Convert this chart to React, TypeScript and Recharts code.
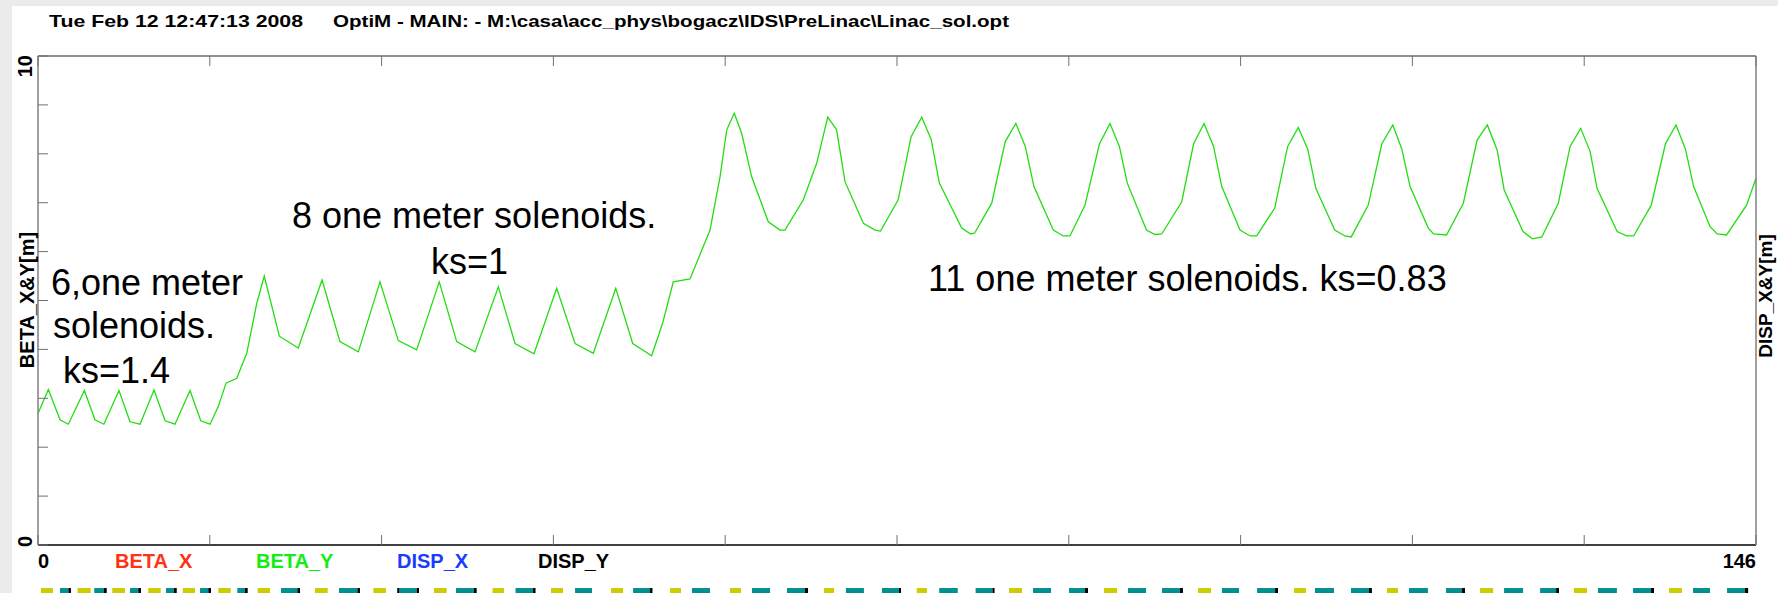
import React from 'react';
import { ComposedChart, Line, XAxis, YAxis, ReferenceArea } from 'recharts';

const W = 1778;
const H = 593;
const FONT = '"Liberation Sans", Arial, Helvetica, sans-serif';

// beam position s [m]
const sPos = [
  0, 0.88, 1.87, 2.58, 3.94, 4.84, 5.6, 6.88, 7.82, 8.67, 9.86, 10.8, 11.64, 12.92, 13.83, 14.62,
  15.32, 15.98, 16.89, 17.74, 18.59, 19.23,
  20.51, 22.12, 24.14, 25.66, 27.22, 29.06, 30.62, 32.18, 34.1, 35.58, 37.14, 39.12, 40.54, 42.15,
  44.08, 45.64, 47.19, 49.1, 50.54, 52.15, 53.1, 53.99, 55.41, 57.11, 57.96, 58.53,
  59.17, 59.8, 60.65, 62.06, 63.06, 63.48, 65.04, 66.18, 67.11, 67.87, 68.58, 70.14, 71.13, 71.6,
  73.1, 74.2, 75.1, 75.9, 76.6, 78.5, 79.26, 79.6,
  81.05, 82.2, 83.1, 83.9, 84.64, 86.28, 87.13, 87.7,
  88.98, 90.2, 91.1, 91.9, 92.57, 94.2, 94.92, 95.5,
  97.2, 98.2, 99.09, 99.9, 100.6, 102.15, 103.0, 103.57,
  105.1, 106.2, 107.1, 107.9, 108.6, 110.2, 111.07, 111.6,
  113.05, 114.2, 115.13, 115.9, 116.6, 118.15, 118.6, 119.7,
  121.13, 122.3, 123.17, 124.0, 124.6, 126.2, 127.0, 127.8,
  129.2, 130.2, 131.1, 131.9, 132.5, 134.2, 135.0, 135.6,
  137.1, 138.3, 139.2, 140.0, 140.7, 142.1, 142.7, 143.5,
  145.2, 146,
];

// BETA_Y [m]
const betaY = [
  2.69, 3.18, 2.56, 2.47, 3.16, 2.56, 2.47, 3.16, 2.52, 2.47, 3.17, 2.54, 2.47, 3.16, 2.54, 2.47,
  2.83, 3.31, 3.41, 3.92, 4.94, 5.5,
  4.27, 4.03, 5.42, 4.16, 3.95, 5.38, 4.18, 3.99, 5.38, 4.16, 3.95, 5.28, 4.12, 3.91,
  5.25, 4.12, 3.92, 5.25, 4.12, 3.87, 4.55, 5.38, 5.44, 6.44, 7.53, 8.49,
  8.83, 8.42, 7.53, 6.61, 6.44, 6.44, 7.06, 7.81, 8.75, 8.49, 7.43, 6.58, 6.44, 6.42,
  7.06, 8.35, 8.75, 8.3, 7.4, 6.48, 6.36, 6.38,
  6.99, 8.25, 8.62, 8.15, 7.33, 6.44, 6.32, 6.32,
  6.95, 8.2, 8.62, 8.15, 7.4, 6.44, 6.35, 6.36,
  7.02, 8.2, 8.62, 8.15, 7.33, 6.44, 6.32, 6.32,
  6.89, 8.15, 8.54, 8.1, 7.29, 6.44, 6.32, 6.3,
  6.95, 8.2, 8.59, 8.1, 7.33, 6.48, 6.36, 6.34,
  6.99, 8.28, 8.59, 8.08, 7.26, 6.41, 6.26, 6.3,
  6.99, 8.15, 8.52, 8.05, 7.29, 6.41, 6.32, 6.32,
  6.95, 8.2, 8.59, 8.1, 7.33, 6.51, 6.36, 6.34,
  6.95, 7.5,
];

const xTicks = [0, 14.6, 29.2, 43.8, 58.4, 73, 87.6, 102.2, 116.8, 131.4, 146];
const yTicksLeft = [0, 1, 2, 3, 4, 5, 6, 7, 8, 9, 10];
const yTicksRight = [0, 0.5, 1, 1.5, 2, 2.5, 3, 3.5, 4, 4.5, 5];

const legendNames = ['BETA_X', 'BETA_Y', 'DISP_X', 'DISP_Y'];
const legendColors = ['#ff3311', '#11ee11', '#1a3cff', '#000000'];

// lattice elements [start, end] in s
const solenoids = [
  [0.25, 1.27], [3.37, 4.48], [6.31, 7.39], [9.37, 10.43], [12.3, 13.34], [15.32, 16.38],
  [18.67, 19.72], [23.54, 24.62], [28.5, 29.57], [33.65, 34.73], [38.63, 39.6], [43.6, 44.62],
  [48.7, 49.72], [53.71, 54.64], [58.81, 59.74], [66.8, 67.65], [74.68, 75.54], [82.52, 83.62],
  [90.59, 91.7], [98.58, 99.69], [106.74, 107.76], [114.64, 115.57], [122.55, 123.66],
  [130.53, 131.64], [138.61, 139.71],
];
const cavities = [
  [1.87, 2.58], [4.78, 5.61], [7.82, 8.52], [10.88, 11.56], [13.77, 14.47], [16.94, 17.59],
  [20.65, 22.04], [25.58, 27.14], [30.68, 32.18], [35.52, 37.05], [40.58, 42.07], [45.64, 47.08],
  [50.57, 52.01], [55.58, 57.11], [60.68, 62.21], [63.65, 65.18], [68.66, 70.19], [71.72, 73.17],
  [76.59, 78.16], [79.68, 81.11], [84.56, 86.09], [87.62, 88.98], [92.63, 94.16], [95.52, 97.05],
  [100.62, 102.07], [103.6, 105.13], [108.52, 110.14], [111.58, 113.11], [116.51, 118.12],
  [119.66, 121.02], [124.59, 126.21], [127.65, 129.01], [132.57, 134.18], [135.55, 137.08],
  [140.65, 142.09], [143.54, 145.07],
];
const markers = [
  [2.58, 2.8], [5.61, 5.84], [8.52, 8.75], [11.56, 11.79], [14.47, 14.7], [17.59, 17.82],
  [22.04, 22.27], [27.14, 27.36], [30.53, 30.68], [32.18, 32.38], [37.05, 37.28], [42.07, 42.28],
  [52.01, 52.22], [65.18, 65.44], [73.17, 73.34], [81.11, 81.29], [88.98, 89.23], [97.05, 97.3],
  [105.13, 105.38], [113.11, 113.36], [121.02, 121.27], [129.01, 129.26], [137.08, 137.33],
  [145.07, 145.33],
];

const data = sPos.map((s, i) => ({ s, betaY: betaY[i] }));

// lattice strip drawn below the axis labels, in left-axis units
const stripTop = -0.88;
const stripBottom = -1.1;

const tickColor = '#707070';

function BottomTick(props: any) {
  const { x, y, payload } = props;
  const v = payload.value;
  return (
    <g>
      <line x1={x} y1={y} x2={x} y2={y - 10} stroke={tickColor} />
      {(v === 0 || v === 146) && (
        <text x={x} y={y + 23} textAnchor={v === 0 ? 'start' : 'end'} fontFamily={FONT}
          fontWeight="bold" fontSize={20} fill="#000">{v}</text>
      )}
    </g>
  );
}

function TopTick(props: any) {
  const { x, y } = props;
  return <line x1={x} y1={y} x2={x} y2={y + 10} stroke={tickColor} />;
}

function LeftTick(props: any) {
  const { x, y, payload } = props;
  const v = payload.value;
  const lx = 32;
  return (
    <g>
      <line x1={x} y1={y} x2={x + 10} y2={y} stroke={tickColor} />
      {v === 0 && (
        <text transform={`rotate(-90 ${lx} ${y + 2})`} x={lx} y={y + 2} textAnchor="start"
          fontFamily={FONT} fontWeight="bold" fontSize={20} fill="#000">0</text>
      )}
      {v === 10 && (
        <text transform={`rotate(-90 ${lx} ${y - 1})`} x={lx} y={y - 1} textAnchor="end"
          fontFamily={FONT} fontWeight="bold" fontSize={20} fill="#000">10</text>
      )}
    </g>
  );
}

function RightTick(props: any) {
  const { x, y, payload } = props;
  const v = payload.value;
  const lx = x + 20;
  return (
    <g>
      <line x1={x} y1={y} x2={x - 10} y2={y} stroke={tickColor} />
      {v === 0 && (
        <text transform={`rotate(-90 ${lx} ${y + 2})`} x={lx} y={y + 2} textAnchor="start"
          fontFamily={FONT} fontWeight="bold" fontSize={20} fill="#000">0</text>
      )}
      {v === 5 && (
        <text transform={`rotate(-90 ${lx} ${y - 1})`} x={lx} y={y - 1} textAnchor="end"
          fontFamily={FONT} fontWeight="bold" fontSize={20} fill="#000">5</text>
      )}
    </g>
  );
}

export default function App() {
  const bold = { fontFamily: FONT, fontWeight: 'bold' as const };
  const strip = (list: number[][], fill: string, key: string) =>
    list.map(([a, b], i) => (
      <ReferenceArea key={key + i} yAxisId="left" x1={a} x2={b} y1={stripBottom} y2={stripTop}
        ifOverflow="visible" fill={fill} fillOpacity={1} stroke="none" />
    ));
  return (
    <div style={{ position: 'relative', width: W, height: H, background: '#ebebeb', overflow: 'hidden' }}>
      <style>{'body{margin:0}'}</style>
      <div style={{ position: 'absolute', left: 12, top: 6, width: W - 12, height: H - 6, background: '#fff' }} />
      <div style={{ position: 'absolute', left: 0, top: 0 }}>
        <ComposedChart width={W} height={H} data={data} margin={{ top: 46, right: 12, bottom: 28, left: 28 }}>
          <XAxis dataKey="s" type="number" domain={[0, 146]} ticks={xTicks} interval={0} height={20}
            tickSize={0} tickMargin={0} tickLine={false} axisLine={{ stroke: '#000', strokeWidth: 1.5 }}
            tick={BottomTick} />
          <XAxis xAxisId="top" orientation="top" dataKey="s" type="number" domain={[0, 146]} ticks={xTicks}
            interval={0} height={10} tickSize={0} tickMargin={0} tickLine={false}
            axisLine={{ stroke: '#222', strokeWidth: 1.2 }} tick={TopTick} />
          <YAxis yAxisId="left" type="number" domain={[0, 10]} ticks={yTicksLeft} interval={0} width={10}
            tickSize={0} tickMargin={0} tickLine={false} axisLine={{ stroke: '#808080', strokeWidth: 1.5 }}
            tick={LeftTick} allowDataOverflow />
          <YAxis yAxisId="right" orientation="right" type="number" domain={[0, 5]} ticks={yTicksRight}
            interval={0} width={10} tickSize={0} tickMargin={0} tickLine={false}
            axisLine={{ stroke: '#808080', strokeWidth: 1.5 }} tick={RightTick} />
          {strip(solenoids, '#cccc00', 'sol')}
          {strip(cavities, '#009090', 'cav')}
          {strip(markers, '#000000', 'mk')}
          <Line yAxisId="left" dataKey="betaY" type="linear" stroke="#22dd11" strokeWidth={1.3}
            dot={false} isAnimationActive={false} />
        </ComposedChart>
      </div>
      <svg width={W} height={H} style={{ position: 'absolute', left: 0, top: 0, pointerEvents: 'none' }}>
        <text x={49} y={27} fontSize={16.5} textLength={254} lengthAdjust="spacingAndGlyphs" {...bold}>
          Tue Feb 12 12:47:13 2008
        </text>
        <text x={333} y={27} fontSize={16.5} textLength={676} lengthAdjust="spacingAndGlyphs" {...bold}>
          {'OptiM - MAIN: - M:\\casa\\acc_phys\\bogacz\\IDS\\PreLinac\\Linac_sol.opt'}
        </text>
        <text transform="rotate(-90 34 300)" x={34} y={300} textAnchor="middle" fontSize={20} {...bold}>
          BETA_X&amp;Y[m]
        </text>
        <text transform="rotate(-90 1772 296)" x={1772} y={296} textAnchor="middle" fontSize={19} {...bold}>
          DISP_X&amp;Y[m]
        </text>
        {legendNames.map((n, i) => (
          <text key={n} x={115 + i * 141} y={568} fontSize={20} fill={legendColors[i]} {...bold}>{n}</text>
        ))}
        <g fontFamily={FONT} fontSize={36} fill="#000">
          <text x={51} y={295}>6,one meter</text>
          <text x={53} y={338}>solenoids.</text>
          <text x={63} y={383}>ks=1.4</text>
          <text x={292} y={228}>8 one meter solenoids.</text>
          <text x={431} y={274}>ks=1</text>
          <text x={928} y={291}>11 one meter solenoids. ks=0.83</text>
        </g>
      </svg>
    </div>
  );
}
